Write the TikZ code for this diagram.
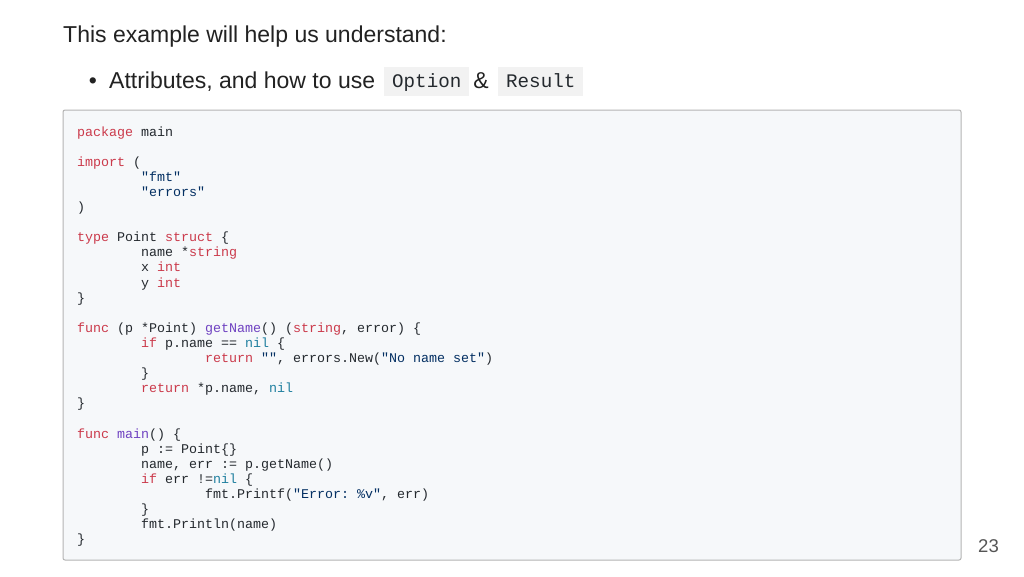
\documentclass[tikz,border=0pt]{standalone}
\usepackage{fontspec}
\setmainfont{Liberation Sans}
\setmonofont{Liberation Mono}
\usetikzlibrary{math}

\definecolor{slidetext}{HTML}{222222}
\definecolor{codetext}{HTML}{24292E}
\definecolor{codebg}{HTML}{F6F8FA}
\definecolor{inlinebg}{HTML}{F2F2F2}
\definecolor{boxline}{HTML}{B4B4B4}
\definecolor{kwred}{HTML}{CB3A4B}
\definecolor{strnavy}{HTML}{032F62}
\definecolor{fnpurple}{HTML}{6F42C1}
\definecolor{nilteal}{HTML}{1F7F9F}
\definecolor{pagegray}{HTML}{555555}

\newcommand{\gokw}[1]{\textcolor{kwred}{#1}}
\newcommand{\gostr}[1]{\textcolor{strnavy}{#1}}
\newcommand{\gofn}[1]{\textcolor{fnpurple}{#1}}
\newcommand{\gonil}[1]{\textcolor{nilteal}{#1}}

\begin{document}
\begin{tikzpicture}[x=1pt, y=-1pt,
    slide/.style={anchor=base west, inner sep=0pt, text=slidetext, font=\fontsize{23}{27}\selectfont},
    inlinecode/.style={anchor=base west, fill=inlinebg, inner xsep=8pt, inner ysep=4.5pt,
        text height=15.5pt, text depth=4.5pt, text=codetext, font=\ttfamily\fontsize{19.2}{22}\selectfont},
    codebox/.style={draw=boxline, fill=codebg, line width=1pt, rounded corners=2pt},
    codeline/.style={anchor=base west, inner sep=0pt, text=codetext, font=\ttfamily\fontsize{13.33}{15}\selectfont}]
    \tikzmath{
        \slidew=1024;
        \slideh=576;
        \codex=77;
        \tabw=64;
        \codetop=136;
        \lh=15.11;
    }

    \useasboundingbox [fill=white] (0, 0) rectangle (\slidew, \slideh);

    % title and bullet
    \node (title) [slide] at (63, 42) {This example will help us understand:};
    \node (dot) [slide, anchor=base] at (93, 88) {•};
    \node (attr) [slide] at (109, 88) {Attributes, and how to use};
    \node (opt) [inlinecode] at (384, 87) {Option};
    \node (amp) [slide, anchor=base] at (481, 88) {\&};
    \node (res) [inlinecode] at (498, 87) {Result};

    % code
    \draw [codebox] (63, 110) rectangle (961, 560);
    \node (c1) [codeline] at (\codex, \codetop) {\gokw{package} main};
    \node (c3) [codeline] at (\codex, {\codetop+2*\lh}) {\gokw{import} (};
    \node (c4) [codeline] at ({\codex+\tabw}, {\codetop+3*\lh}) {\gostr{"fmt"}};
    \node (c5) [codeline] at ({\codex+\tabw}, {\codetop+4*\lh}) {\gostr{"errors"}};
    \node (c6) [codeline] at (\codex, {\codetop+5*\lh}) {)};
    \node (c8) [codeline] at (\codex, {\codetop+7*\lh}) {\gokw{type} Point \gokw{struct} \{};
    \node (c9) [codeline] at ({\codex+\tabw}, {\codetop+8*\lh}) {name *\gokw{string}};
    \node (c10) [codeline] at ({\codex+\tabw}, {\codetop+9*\lh}) {x \gokw{int}};
    \node (c11) [codeline] at ({\codex+\tabw}, {\codetop+10*\lh}) {y \gokw{int}};
    \node (c12) [codeline] at (\codex, {\codetop+11*\lh}) {\}};
    \node (c14) [codeline] at (\codex, {\codetop+13*\lh}) {\gokw{func} (p *Point) \gofn{getName}() (\gokw{string}, error) \{};
    \node (c15) [codeline] at ({\codex+\tabw}, {\codetop+14*\lh}) {\gokw{if} p.name == \gonil{nil} \{};
    \node (c16) [codeline] at ({\codex+2*\tabw}, {\codetop+15*\lh}) {\gokw{return} \gostr{""}, errors.New(\gostr{"No name set"})};
    \node (c17) [codeline] at ({\codex+\tabw}, {\codetop+16*\lh}) {\}};
    \node (c18) [codeline] at ({\codex+\tabw}, {\codetop+17*\lh}) {\gokw{return} *p.name, \gonil{nil}};
    \node (c19) [codeline] at (\codex, {\codetop+18*\lh}) {\}};
    \node (c21) [codeline] at (\codex, {\codetop+20*\lh}) {\gokw{func} \gofn{main}() \{};
    \node (c22) [codeline] at ({\codex+\tabw}, {\codetop+21*\lh}) {p := Point\{\}};
    \node (c23) [codeline] at ({\codex+\tabw}, {\codetop+22*\lh}) {name, err := p.getName()};
    \node (c24) [codeline] at ({\codex+\tabw}, {\codetop+23*\lh}) {\gokw{if} err !=\gonil{nil} \{};
    \node (c25) [codeline] at ({\codex+2*\tabw}, {\codetop+24*\lh}) {fmt.Printf(\gostr{"Error: \%v"}, err)};
    \node (c26) [codeline] at ({\codex+\tabw}, {\codetop+25*\lh}) {\}};
    \node (c27) [codeline] at ({\codex+\tabw}, {\codetop+26*\lh}) {fmt.Println(name)};
    \node (c28) [codeline] at (\codex, {\codetop+27*\lh}) {\}};

    % page number
    \node (page) [anchor=base east, inner sep=0pt, text=pagegray, font=\fontsize{18.5}{22}\selectfont] at (999, 552) {23};
\end{tikzpicture}
\end{document}
